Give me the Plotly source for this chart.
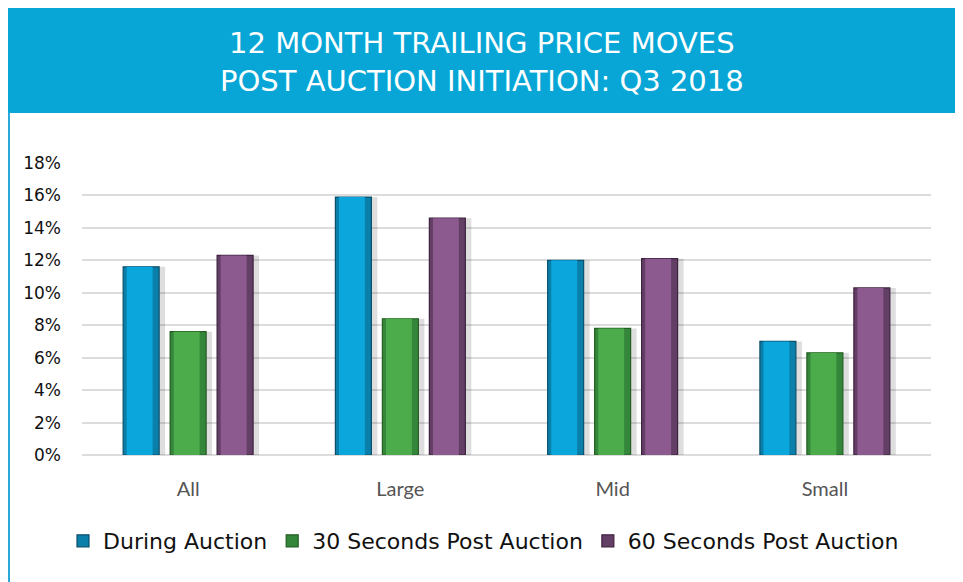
import plotly.graph_objects as go

categories = ["All", "Large", "Mid", "Small"]
during = [11.6, 15.9, 12.0, 7.0]
sec30 = [7.6, 8.4, 7.8, 6.3]
sec60 = [12.3, 14.6, 12.1, 10.3]
series_names = ["During Auction", "30 Seconds Post Auction", "60 Seconds Post Auction"]
tick_vals = [0, 2, 4, 6, 8, 10, 12, 14, 16, 18]
tick_text = [f"{v}%" for v in tick_vals]

main_colors = ["#0aa6dc", "#4cab4a", "#8c5a8e"]
outer_colors = ["#0a7fa9", "#34863a", "#633f66"]
edges = ["#0b4f6c", "#235e22", "#3f2240"]

# page body has an 8px margin; figure origin sits at screen (8, 8)
H = 292.0
W = 849.0
def px_x(x):
    return (x - 82) / W
def px_y(y):
    return (455 - y) / H

bargap = 0.336
slot = (1 - bargap) / 3
bw = slot * (1 - 0.234)
cat_px = W / len(categories)

fig = go.Figure()
series = [during, sec30, sec60]
for i, vals in enumerate(series):
    off = -0.5 * (1 - bargap) + i * slot + (slot - bw) / 2
    fig.add_trace(go.Bar(
        x=categories, y=vals, width=bw, offset=off + 6 / cat_px,
        marker=dict(color="rgba(0,0,0,0.13)", line=dict(width=0)),
        showlegend=False, hoverinfo="skip"))
for i, (name, vals) in enumerate(zip(series_names, series)):
    off = -0.5 * (1 - bargap) + i * slot + (slot - bw) / 2
    fig.add_trace(go.Bar(
        x=categories, y=vals, name=name, width=bw, offset=off,
        marker=dict(color=outer_colors[i], line=dict(color=edges[i], width=1.2)),
        hovertemplate="%{x}: %{y}%<extra>" + name + "</extra>"))
    inner = bw * 0.72
    fig.add_trace(go.Bar(
        x=categories, y=vals, width=inner, offset=off + bw * 0.1,
        marker=dict(color=main_colors[i], line=dict(width=0)),
        showlegend=False, hoverinfo="skip"))

fig.update_layout(
    width=963, height=582,
    paper_bgcolor="white", plot_bgcolor="white",
    margin=dict(l=74, r=40, t=155, b=135),
    barmode="overlay",
    font=dict(family="DejaVu Sans, sans-serif", color="#000000"),
    showlegend=True,
    legend=dict(orientation="h", x=px_x(63), xanchor="left", y=px_y(541), yanchor="middle",
                font=dict(size=22, color="#111111", family="DejaVu Sans, sans-serif"),
                itemwidth=30, traceorder="normal", itemclick=False, tracegroupgap=0),
    xaxis=dict(showgrid=False, showline=False, ticks="",
               tickfont=dict(size=20, color="#555555", family="Lato, sans-serif"),
               ticklabelstandoff=20),
    yaxis=dict(range=[0, 18], tickvals=tick_vals, ticktext=tick_text,
               showgrid=True, gridcolor="#dcdcdc", gridwidth=1.5,
               zeroline=True, zerolinecolor="#dcdcdc", zerolinewidth=1.5,
               showline=False, ticks="",
               tickfont=dict(size=17, color="#111111", family="DejaVu Sans, sans-serif"),
               ticklabelstandoff=20),
    annotations=[
        dict(text="12 MONTH TRAILING PRICE MOVES<br>POST AUCTION INITIATION: Q3 2018",
             xref="paper", yref="paper", x=px_x(482), y=px_y(62),
             xanchor="center", yanchor="middle", showarrow=False,
             font=dict(size=29, color="white", family="DejaVu Sans, sans-serif"),
             align="center"),
    ],
)

fig.add_shape(type="rect", xref="paper", yref="paper",
              x0=px_x(0), x1=px_x(980), y0=px_y(113), y1=px_y(8),
              line=dict(width=0), fillcolor="#07a6d6", layer="below")
fig.add_shape(type="line", xref="paper", yref="paper",
              x0=px_x(9), x1=px_x(9), y0=px_y(600), y1=px_y(113),
              line=dict(color="#2aa8d8", width=2))

fig.write_html("out.html")
